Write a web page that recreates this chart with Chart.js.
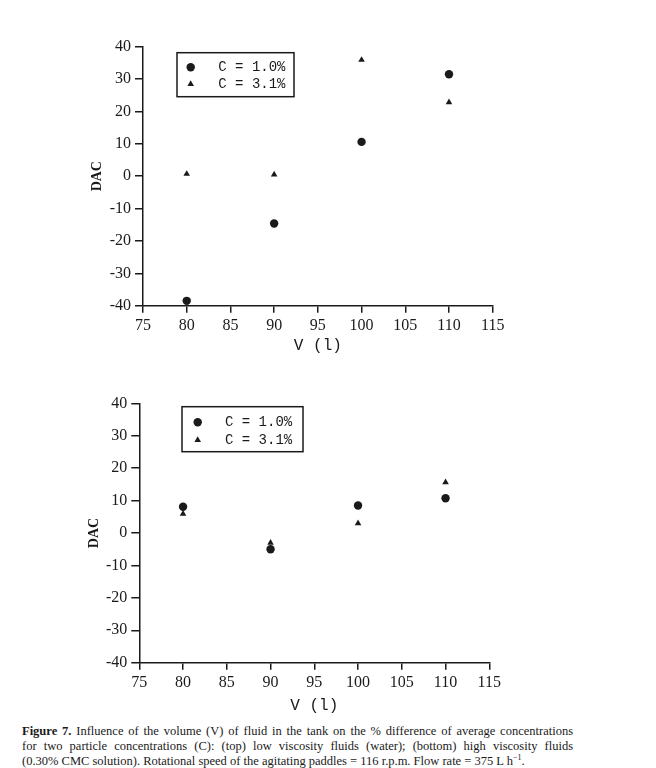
<!DOCTYPE html>
<html>
<head>
<meta charset="utf-8">
<script src="https://cdn.jsdelivr.net/npm/chart.js@4/dist/chart.umd.min.js"></script>
<style>
    body { margin: 0; background: #fff; width: 656px; height: 768px; position: relative; overflow: hidden; }
    canvas { position: absolute; left: 0; }
    #topChart { top: 0; }
    #bottomChart { top: 360px; }
    #caption {
        position: absolute; left: 22px; top: 724px; width: 551px;
        font: 12.5px/15px "Liberation Serif", "Times New Roman", serif; color: #1a1a1a;
    }
    #caption span { display: block; height: 15px; text-align: justify; text-align-last: justify; }
    #caption span.last { text-align-last: left; }
    #caption sup { font-size: 8px; line-height: 0; vertical-align: 0; position: relative; top: -5px; }
</style>
</head>
<body>
<canvas id="topChart" width="656" height="360"></canvas>
<canvas id="bottomChart" width="656" height="360"></canvas>
<div id="caption">
    <span><b>Figure 7.</b> Influence of the volume (V) of fluid in the tank on the % difference of average concentrations</span>
    <span>for two particle concentrations (C): (top) low viscosity fluids (water); (bottom) high viscosity fluids</span>
    <span class="last">(0.30% CMC solution). Rotational speed of the agitating paddles = 116 r.p.m. Flow rate = 375 L h<sup>&minus;1</sup>.</span>
</div>
<script>
    // Data
    const volumes = [80, 90, 100, 110];
    const seriesLabels = ['C = 1.0%', 'C = 3.1%'];
    // top: low viscosity (water)
    const topC10 = [-38.5, -14.6, 10.6, 31.5];
    const topC31 = [0.7, 0.5, 35.9, 22.8];
    // bottom: high viscosity (0.30% CMC)
    const bottomC10 = [8.1, -5.0, 8.5, 10.7];
    const bottomC31 = [5.9, -3.0, 3.0, 15.6];
    const xTickValues = [75, 80, 85, 90, 95, 100, 105, 110, 115];
    const yTickValues = [-40, -30, -20, -10, 0, 10, 20, 30, 40];

    const ink = '#1a1a1a';

    // boxed legend drawn inside the plot area
    const boxLegend = {
        id: 'boxLegend',
        afterDraw(chart, args, opts) {
            const { ctx, chartArea } = chart;
            const x0 = chartArea.left + opts.dx, y0 = chartArea.top + opts.dy;
            ctx.save();
            ctx.strokeStyle = ink;
            ctx.lineWidth = 1.5;
            ctx.strokeRect(x0, y0, opts.w, opts.h);
            ctx.font = '14px "Liberation Mono", "Courier New", monospace';
            ctx.textBaseline = 'middle';
            ctx.fillStyle = ink;
            chart.data.datasets.forEach((ds, i) => {
                const y = y0 + opts.rows[i];
                Chart.helpers.drawPoint(ctx, {
                    pointStyle: ds.pointStyle, radius: ds.pointRadius, rotation: 0, borderWidth: 0
                }, x0 + opts.markerX, y);
                ctx.fillStyle = ink;
                ctx.fillText(ds.label, x0 + opts.textX, y);
            });
            ctx.restore();
        }
    };

    function makeChart(id, lowData, highData, lay, legendOpts) {
        new Chart(document.getElementById(id), {
            type: 'scatter',
            data: {
                datasets: [
                    {
                        label: seriesLabels[0],
                        data: volumes.map((v, i) => ({ x: v, y: lowData[i] })),
                        pointStyle: 'circle', pointRadius: 4.2,
                        backgroundColor: ink, borderColor: ink, borderWidth: 0,
                    },
                    {
                        label: seriesLabels[1],
                        data: volumes.map((v, i) => ({ x: v, y: highData[i] })),
                        pointStyle: 'triangle', pointRadius: 3.8,
                        backgroundColor: ink, borderColor: ink, borderWidth: 0,
                    }
                ]
            },
            options: {
                responsive: false,
                animation: false,
                layout: { padding: { left: lay.left, top: lay.top, right: lay.right, bottom: 5 } },
                scales: {
                    x: {
                        type: 'linear', min: 75, max: 115,
                        afterBuildTicks: (s) => { s.ticks = xTickValues.map(v => ({ value: v })); },
                        afterFit: (s) => { s.height = lay.xHeight; },
                        border: { display: true, color: ink, width: 1.5 },
                        grid: { drawOnChartArea: false, drawTicks: true, tickLength: 7, color: ink, lineWidth: 1.5 },
                        ticks: { color: ink, padding: 3, font: { family: '"Liberation Serif", serif', size: 16 } },
                        title: { display: true, text: 'V (l)', color: ink, padding: 0,
                                 font: { family: '"Liberation Mono", monospace', size: 16 } }
                    },
                    y: {
                        type: 'linear', min: -40, max: 40,
                        afterBuildTicks: (s) => { s.ticks = yTickValues.map(v => ({ value: v })); },
                        afterFit: (s) => { s.width = lay.yWidth; },
                        border: { display: true, color: ink, width: 1.5 },
                        grid: { drawOnChartArea: false, drawTicks: true, tickLength: 8, color: ink, lineWidth: 1.5 },
                        ticks: { color: ink, padding: 4, font: { family: '"Liberation Serif", serif', size: 16 } },
                        title: { display: true, text: 'DAC', color: ink, padding: 0,
                                 font: { family: '"Liberation Serif", serif', size: 14, weight: 'bold' } }
                    }
                },
                plugins: {
                    legend: { display: false },
                    tooltip: { enabled: false },
                    boxLegend: legendOpts
                }
            },
            plugins: [boxLegend]
        });
    }

    makeChart('topChart', topC10, topC31,
        { left: 88.6, top: 46.7, right: 163.3, yWidth: 54.4, xHeight: 49.3 },
        { dx: 34, dy: 6, w: 117, h: 44, markerX: 13.7, textX: 41.3, rows: [14.6, 31.3] });

    makeChart('bottomChart', bottomC10, bottomC31,
        { left: 85.9, top: 43.3, right: 166.7, yWidth: 53.4, xHeight: 52.3 },
        { dx: 42.7, dy: 3.4, w: 121, h: 45, markerX: 15.7, textX: 43, rows: [15.6, 33.3] });
</script>
</body>
</html>
